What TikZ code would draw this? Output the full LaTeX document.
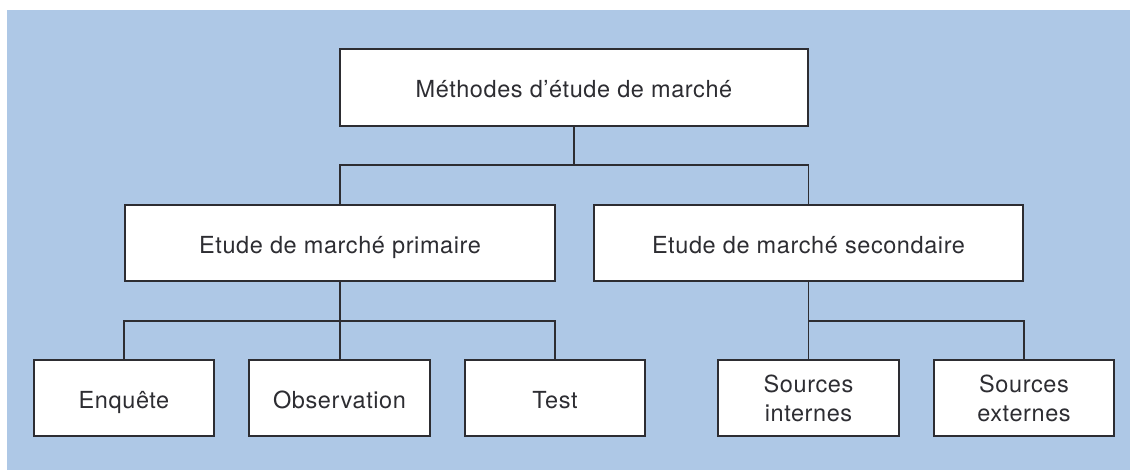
\documentclass[tikz,border=0pt]{standalone}
\usepackage{fontspec}
\setmainfont{TeX Gyre Heros}[LetterSpace=2.5]
\definecolor{bgblue}{RGB}{174,200,230}
\definecolor{ink}{RGB}{45,45,50}
\tikzset{
  box/.style={draw=ink, fill=white, line width=1.3pt, inner sep=0pt,
    minimum height=76pt, align=center, text=ink,
    font=\fontsize{23.5}{29}\selectfont},
  oneline/.style={text height=21pt, text depth=0pt},
  link/.style={draw=ink, line width=1.3pt}
}
\begin{document}
\begin{tikzpicture}[x=1pt,y=-1pt]
\useasboundingbox (0,0) rectangle (1130,470);
\fill[bgblue] (7,10) rectangle (1130,470);
\node[box, oneline, minimum width=468pt, minimum height=77pt] (top) at (574,87.5) {Méthodes d’étude de marché};
\node[box, oneline, minimum width=430pt] (prim) at (340,243) {Etude de marché primaire};
\node[box, oneline, minimum width=429pt] (sec) at (808.5,243) {Etude de marché secondaire};
\node[box, oneline, minimum width=180pt] (enq) at (124,398) {Enquête};
\node[box, oneline, minimum width=181pt] (obs) at (339.5,398) {Observation};
\node[box, oneline, minimum width=180pt] (test) at (555,398) {Test};
\node[box, minimum width=181pt] (int) at (808.5,398) {Sources\\internes};
\node[box, minimum width=180pt] (ext) at (1024,398) {Sources\\externes};
\coordinate (j1) at (574,165);
\coordinate (j2) at (340,321);
\coordinate (j3) at (808.5,321);
\draw[link] (top.south) -- (j1);
\draw[link] (prim.north) |- (j1) -| (sec.north);
\draw[link] (prim.south) -- (prim.south |- obs.north);
\draw[link] (enq.north) |- (j2) -| (test.north);
\draw[link] (sec.south) -- (sec.south |- int.north);
\draw[link] (j3) -| (ext.north);
\end{tikzpicture}
\end{document}
